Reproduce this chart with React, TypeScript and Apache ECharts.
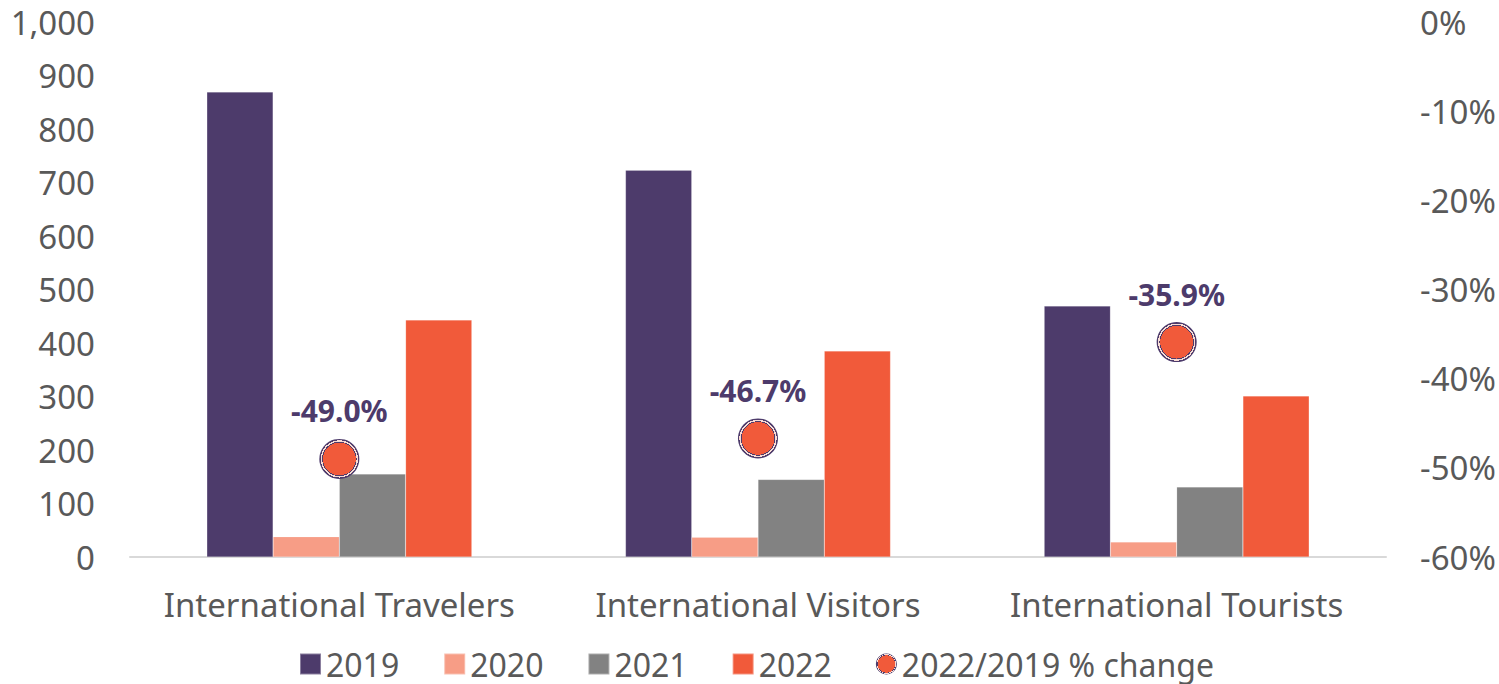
import React, { useEffect, useRef } from "react";
import * as echarts from "echarts";

const categories = ["International Travelers", "International Visitors", "International Tourists"];
const v2019 = [869, 723, 469];
const v2020 = [38, 37, 28];
const v2021 = [155, 145, 131];
const v2022 = [443, 385, 301];
const pctChange = [-49.0, -46.7, -35.9];
const leftTicks = { min: 0, max: 1000, interval: 100 };
const rightTicks = { min: -60, max: 0, interval: 10 };

const PURPLE = "#4d3b6b";
const SALMON = "#f79d86";
const GRAY = "#828282";
const ORANGE = "#f15a3a";
const TEXT = "#595959";
const FONT = "Noto Sans";

export default function App() {
  const ref = useRef<HTMLDivElement>(null);
  useEffect(() => {
    document.body.style.margin = "0";
    const chart = echarts.init(ref.current!, null, { renderer: "svg" });
    const dotFill = new echarts.graphic.RadialGradient(0.5, 0.5, 0.5, [
      { offset: 0, color: ORANGE },
      { offset: 0.82, color: ORANGE },
      { offset: 0.82, color: PURPLE },
      { offset: 0.86, color: PURPLE },
      { offset: 0.86, color: "#f7dcd5" },
      { offset: 0.93, color: "#f7dcd5" },
      { offset: 0.93, color: PURPLE },
      { offset: 1, color: PURPLE },
    ]);
    const barSeries = (name: string, data: number[], color: string) => ({
      name,
      type: "bar",
      data,
      yAxisIndex: 0,
      barGap: "0%",
      barCategoryGap: "36.7%",
      itemStyle: { color, borderColor: "rgba(255,255,255,0.35)", borderWidth: 0.5 },
    });
    chart.setOption({
      animation: false,
      textStyle: { fontFamily: FONT },
      grid: { left: 130, right: 113, top: 22, bottom: 127 },
      legend: {
        left: 294,
        top: 643,
        itemWidth: 21,
        itemHeight: 21,
        itemGap: 44,
        textStyle: { fontSize: 32, color: TEXT, fontFamily: FONT },
        data: [
          { name: "2019", icon: "rect" },
          { name: "2020", icon: "rect" },
          { name: "2021", icon: "rect" },
          { name: "2022", icon: "rect" },
          { name: "2022/2019 % change", icon: "circle" },
        ],
      },
      xAxis: {
        type: "category",
        data: categories,
        axisLine: { lineStyle: { color: "#d9d9d9", width: 2 } },
        axisTick: { show: false },
        axisLabel: { fontSize: 33, color: TEXT, margin: 31, fontFamily: FONT, interval: 0 },
      },
      yAxis: [
        {
          type: "value",
          ...leftTicks,
          splitLine: { show: false },
          axisLine: { show: false },
          axisTick: { show: false },
          axisLabel: {
            fontSize: 33,
            color: TEXT,
            margin: 35,
            fontFamily: FONT,
            formatter: (v: number) => v.toLocaleString("en-US"),
          },
        },
        {
          type: "value",
          ...rightTicks,
          splitLine: { show: false },
          axisLine: { show: false },
          axisTick: { show: false },
          axisLabel: {
            fontSize: 33,
            color: TEXT,
            margin: 34,
            fontFamily: FONT,
            formatter: (v: number) => `${v}%`,
          },
        },
      ],
      series: [
        barSeries("2019", v2019, PURPLE),
        barSeries("2020", v2020, SALMON),
        barSeries("2021", v2021, GRAY),
        barSeries("2022", v2022, ORANGE),
        {
          name: "2022/2019 % change",
          type: "scatter",
          yAxisIndex: 1,
          data: pctChange,
          symbol: "circle",
          symbolSize: 40,
          z: 5,
          itemStyle: { color: dotFill, opacity: 1 },
          label: {
            show: true,
            position: "top",
            distance: 13,
            fontSize: 30,
            fontWeight: "bold",
            color: PURPLE,
            fontFamily: FONT,
            formatter: (p: any) => `${Number(p.value).toFixed(1)}%`,
          },
        },
      ],
    });
    return () => chart.dispose();
  }, []);
  return <div ref={ref} style={{ width: 1499, height: 684 }} />;
}
